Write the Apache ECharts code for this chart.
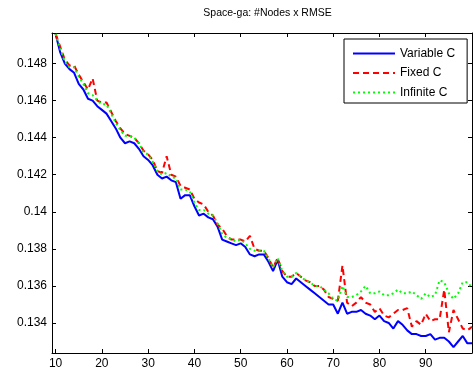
<!DOCTYPE html>
<html><head><meta charset="utf-8">
<script src="https://cdn.jsdelivr.net/npm/echarts@6/dist/echarts.min.js"></script>
<style>html,body{margin:0;padding:0;background:#fff}#c{width:473px;height:373px}</style>
</head><body><div id="c"></div>
<script>
const nodes = [];
for (let n = 10; n <= 100; n++) nodes.push(n);
const variableC = [0.1496,0.1486,0.1480,0.1477,0.1475,0.1469,0.1466,0.1461,0.1460,0.1457,
0.1455,0.1453,0.1449,0.1445,0.1440,0.1437,0.1438,0.1437,0.1434,0.1430,
0.1428,0.1425,0.1420,0.1418,0.1419,0.1417,0.1416,0.1407,0.1409,0.1409,
0.1403,0.1398,0.1399,0.1397,0.1396,0.1392,0.1385,0.1384,0.1383,0.1382,
0.1383,0.1381,0.1377,0.1376,0.1377,0.1377,0.1373,0.1368,0.1374,0.1365,
0.1362,0.1361,0.1364,0.1362,0.1360,0.1358,0.1356,0.1354,0.1352,0.1350,
0.1350,0.1345,0.1351,0.1345,0.1346,0.1346,0.1347,0.1345,0.1344,0.1342,
0.1344,0.1341,0.1340,0.1337,0.1341,0.1339,0.1336,0.1334,0.1334,0.1333,
0.1333,0.1334,0.1331,0.1332,0.1332,0.1330,0.1327,0.1330,0.1333,0.1329,0.1329];
const fixedC = [0.1496,0.1489,0.1482,0.1479,0.1479,0.1474,0.1470,0.1466,0.1472,0.1460,
0.1459,0.1459,0.1454,0.1449,0.1445,0.1442,0.1441,0.1440,0.1437,0.1433,
0.1431,0.1428,0.1422,0.1421,0.1430,0.1420,0.1419,0.1414,0.1413,0.1412,
0.1407,0.1405,0.1404,0.1400,0.1398,0.1393,0.1391,0.1387,0.1385,0.1385,
0.1385,0.1384,0.1387,0.1380,0.1379,0.1379,0.1375,0.1370,0.1375,0.1368,
0.1365,0.1365,0.1367,0.1365,0.1363,0.1362,0.1360,0.1360,0.1358,0.1354,
0.1353,0.1352,0.1371,0.1351,0.1349,0.1351,0.1354,0.1351,0.1350,0.1346,
0.1348,0.1344,0.1343,0.1345,0.1347,0.1347,0.1348,0.1338,0.1341,0.1339,
0.1345,0.1341,0.1342,0.1342,0.1358,0.1335,0.1347,0.1342,0.1337,0.1336,0.1338];
const infiniteC = [0.1496,0.1488,0.1481,0.1478,0.1478,0.1473,0.1469,0.1464,0.1463,0.1460,
0.1458,0.1458,0.1453,0.1448,0.1444,0.1441,0.1441,0.1440,0.1437,0.1432,
0.1431,0.1427,0.1422,0.1420,0.1421,0.1419,0.1418,0.1412,0.1412,0.1411,
0.1405,0.1401,0.1401,0.1399,0.1398,0.1394,0.1388,0.1386,0.1385,0.1384,
0.1385,0.1383,0.1380,0.1379,0.1379,0.1379,0.1375,0.1370,0.1375,0.1368,
0.1365,0.1365,0.1367,0.1365,0.1363,0.1362,0.1360,0.1360,0.1358,0.1356,
0.1353,0.1352,0.1360,0.1354,0.1354,0.1355,0.1357,0.1360,0.1356,0.1356,
0.1357,0.1355,0.1355,0.1356,0.1358,0.1356,0.1356,0.1357,0.1355,0.1353,
0.1356,0.1354,0.1355,0.1363,0.1362,0.1356,0.1353,0.1356,0.1362,0.1362,0.1359];
const xTicks = [10,20,30,40,50,60,70,80,90];
const yTicks = [0.134,0.136,0.138,0.14,0.142,0.144,0.146,0.148];
const seriesNames = ['Variable C','Fixed C','Infinite C'];

const FONT = 'Liberation Sans, Arial, sans-serif';
const X_MIN = 9.22, X_MAX = 100, Y_MIN = 0.13238, Y_MAX = 0.14965;
function pairs(arr){ return nodes.map((n,i)=>[n, arr[i]]); }
const axisBase = {
  axisLine:{show:true,onZero:false,lineStyle:{color:'#000',width:1}},
  splitLine:{show:false}
};
const chart = echarts.init(document.getElementById('c'), null, {renderer:'canvas'});
chart.setOption({
  backgroundColor:'#fff',
  animation:false,
  title:{text:'Space-ga: #Nodes x RMSE', left:262.5, top:3, textAlign:'center',
    textStyle:{fontFamily:FONT,fontSize:10.5,fontWeight:'normal',color:'#000'}},
  grid:{left:52,right:1,top:33,bottom:20},
  legend:{
    orient:'vertical', left:344, top:39,
    padding:[8.5,12,4.5,8], itemGap:7.5, itemWidth:42, itemHeight:14,
    backgroundColor:'#fff', borderColor:'#000', borderWidth:1,
    itemStyle:{opacity:0},
    textStyle:{fontFamily:FONT,fontSize:12,color:'#000'},
    data:seriesNames
  },
  xAxis:[
    Object.assign({type:'value',min:X_MIN,max:X_MAX,position:'bottom',
      axisTick:{show:true,inside:true,length:4,customValues:xTicks,lineStyle:{color:'#000'}},
      axisLabel:{show:true,customValues:xTicks,margin:5,color:'#000',fontFamily:FONT,fontSize:12}},axisBase),
    Object.assign({type:'value',min:X_MIN,max:X_MAX,position:'top',
      axisTick:{show:true,inside:true,length:4,customValues:xTicks,lineStyle:{color:'#000'}},
      axisLabel:{show:false}},axisBase)
  ],
  yAxis:[
    Object.assign({type:'value',min:Y_MIN,max:Y_MAX,position:'left',
      axisTick:{show:true,inside:true,length:4,customValues:yTicks,lineStyle:{color:'#000'}},
      axisLabel:{show:true,customValues:yTicks,margin:5,color:'#000',fontFamily:FONT,fontSize:12,
        formatter:v=>String(+(+v).toFixed(3))}},axisBase),
    Object.assign({type:'value',min:Y_MIN,max:Y_MAX,position:'right',
      axisTick:{show:true,inside:true,length:4,customValues:yTicks,lineStyle:{color:'#000'}},
      axisLabel:{show:false}},axisBase)
  ],
  series:[
    {name:seriesNames[0],type:'line',data:pairs(variableC),symbol:'none',showSymbol:false,
      lineStyle:{color:'#0000ff',width:2,type:'solid'},itemStyle:{color:'#0000ff'},z:2},
    {name:seriesNames[1],type:'line',data:pairs(fixedC),symbol:'none',showSymbol:false,
      lineStyle:{color:'#ff0000',width:2,type:[6,4]},itemStyle:{color:'#ff0000'},z:3},
    {name:seriesNames[2],type:'line',data:pairs(infiniteC),symbol:'none',showSymbol:false,
      lineStyle:{color:'#00ff00',width:2,type:[2,3]},itemStyle:{color:'#00ff00'},z:4}
  ]
});
</script></body></html>
